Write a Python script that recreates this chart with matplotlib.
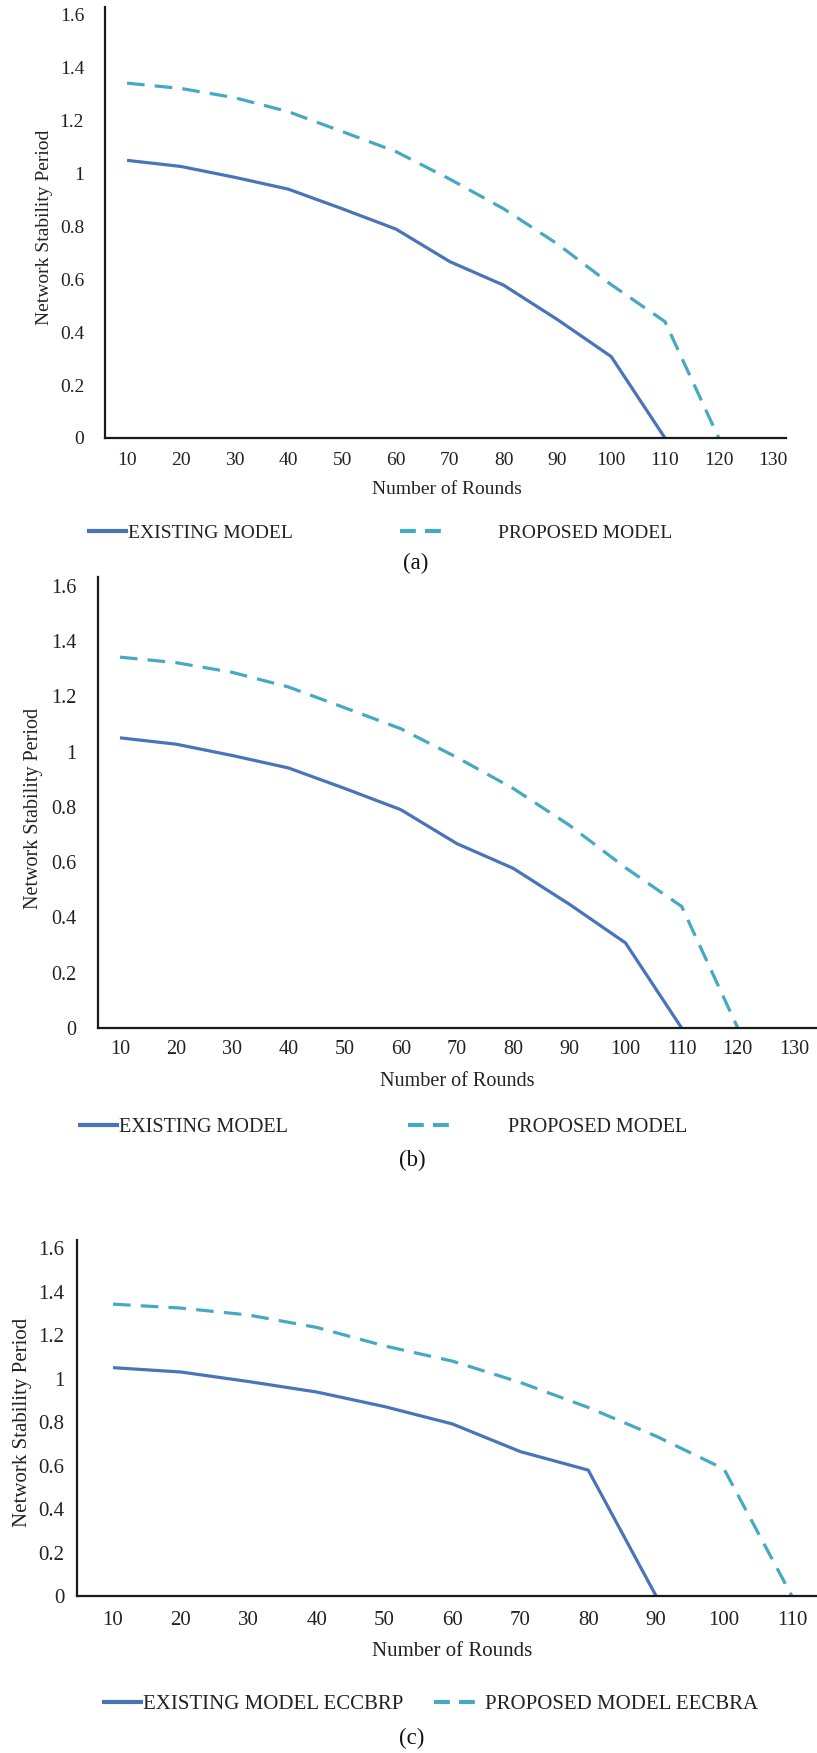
import matplotlib
matplotlib.use("Agg")
import matplotlib.pyplot as plt
import numpy as np

plt.rcParams['font.family'] = ['Liberation Serif', 'DejaVu Serif']

# data (same curves in all three panels, (c) is truncated)
rounds_ab = [10, 20, 30, 40, 50, 60, 70, 80, 90, 100, 110, 120, 130]
existing_ab = [1.05, 1.027, 0.986, 0.941, 0.867, 0.79, 0.667, 0.578, 0.448, 0.308, 0.0]
proposed_ab = [1.342, 1.322, 1.287, 1.234, 1.159, 1.083, 0.979, 0.867, 0.734, 0.58, 0.44, 0.0]

rounds_c = [10, 20, 30, 40, 50, 60, 70, 80, 90, 100, 110]
existing_c = [1.05, 1.03, 0.986, 0.938, 0.871, 0.791, 0.664, 0.579, 0.0]
proposed_c = [1.342, 1.324, 1.292, 1.235, 1.150, 1.080, 0.982, 0.867, 0.735, 0.584, 0.0]

yticks = [0, 0.2, 0.4, 0.6, 0.8, 1, 1.2, 1.4, 1.6]
ytick_labels = ['0', '0.2', '0.4', '0.6', '0.8', '1', '1.2', '1.4', '1.6']

c_exist = '#4a74b8'
c_prop = '#45a9c4'

W, H = 817, 1753
fig = plt.figure(figsize=(W / 100, H / 100), dpi=100)


def px_axes(left, right, bottom, top):
    # pixel box -> figure fraction
    return fig.add_axes([left / W, 1 - bottom / H, (right - left) / W, (bottom - top) / H])


panels = [
    dict(box=(105, 786, 438, 7), xlim=(5.9, 132.5), ytop=1.63, x=rounds_ab,
         ex=existing_ab, pr=proposed_ab, labels=('EXISTING MODEL', 'PROPOSED MODEL'),
         leg_y=533, leg_x=(87, 400), pad2=57, cap='(a)', cap_xy=(416, 563),
         xlab=(447, 490), ylab=(45, 227), fs=14, ypad=15, xpad=10),
    dict(box=(97.5, 817, 1028, 577), xlim=(6.0, 134.1), ytop=1.632, x=rounds_ab,
         ex=existing_ab, pr=proposed_ab, labels=('EXISTING MODEL', 'PROPOSED MODEL'),
         leg_y=1127, leg_x=(78, 408), pad2=59, cap='(b)', cap_xy=(412, 1160),
         xlab=(457, 1081), ylab=(34, 808), fs=14.5, ypad=15, xpad=9),
    dict(box=(77, 817, 1596, 1240), xlim=(4.7, 113.7), ytop=1.637, x=rounds_c,
         ex=existing_c, pr=proposed_c, labels=('EXISTING MODEL ECCBRP', 'PROPOSED MODEL EECBRA'),
         leg_y=1704, leg_x=(102, 434), pad2=10, cap='(c)', cap_xy=(412, 1738),
         xlab=(452, 1652), ylab=(23, 1422), fs=15, ypad=9, xpad=11),
]

for p in panels:
    l, r, b, t = p['box']
    ax = px_axes(l, r, b, t)
    x = p['x']
    fs = p['fs']
    l1, = ax.plot(x[:len(p['ex'])], p['ex'], color=c_exist, lw=2.3, solid_capstyle='butt')
    l2, = ax.plot(x[:len(p['pr'])], p['pr'], color=c_prop, lw=2.3, dashes=(5.5, 3.2))
    ax.set_xlim(*p['xlim'])
    ax.set_ylim(0, p['ytop'])
    ax.set_xticks(x)
    ax.set_xticklabels([str(v) for v in x], fontsize=fs)
    ax.set_yticks(yticks)
    ax.set_yticklabels(ytick_labels, fontsize=fs)
    ax.tick_params(axis='both', length=0, colors='#222222')
    ax.tick_params(axis='y', pad=p['ypad'])
    ax.tick_params(axis='x', pad=p['xpad'])
    for s in ('top', 'right'):
        ax.spines[s].set_visible(False)
    for s in ('left', 'bottom'):
        ax.spines[s].set_color('#1a1a1a')
        ax.spines[s].set_linewidth(1.6)
    ax.patch.set_alpha(0)

    fig.text(p['xlab'][0] / W, 1 - p['xlab'][1] / H, 'Number of Rounds',
             ha='center', va='center', fontsize=fs, color='#222222')
    fig.text(p['ylab'][0] / W, 1 - p['ylab'][1] / H, 'Network Stability Period',
             ha='center', va='center', rotation=90, fontsize=fs, color='#222222')

    hl = 41 / (fs * 100 / 72)
    leg1 = fig.legend([l1], [p['labels'][0]], loc='center left',
                      bbox_to_anchor=(p['leg_x'][0] / W, 1 - p['leg_y'] / H),
                      frameon=False, borderpad=0, borderaxespad=0, handlelength=hl,
                      handletextpad=0, prop={'size': fs})
    leg2 = fig.legend([l2], [p['labels'][1]], loc='center left',
                      bbox_to_anchor=(p['leg_x'][1] / W, 1 - p['leg_y'] / H),
                      frameon=False, borderpad=0, borderaxespad=0, handlelength=hl,
                      handletextpad=p['pad2'] / (fs * 100 / 72), prop={'size': fs})
    for lg in (leg1, leg2):
        for txt in lg.get_texts():
            txt.set_color('#222222')
        for h in lg.legend_handles:
            h.set_linewidth(3)
    # two even dashes in the proposed-model key
    leg2.legend_handles[0].set_dashes((3.8, 2.2))

    fig.text(p['cap_xy'][0] / W, 1 - p['cap_xy'][1] / H, p['cap'],
             ha='center', va='center', fontsize=16.5, color='#111111')

fig.savefig('out.png', dpi=100)
